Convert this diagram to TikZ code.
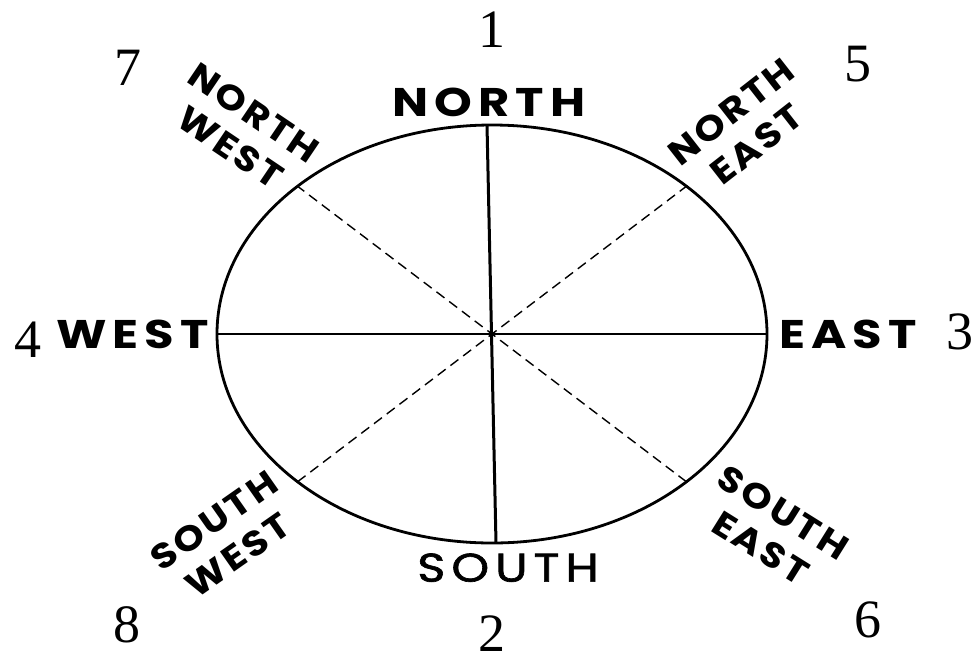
\documentclass[tikz,border=0pt]{standalone}
\usepackage{fontspec}
\newfontfamily\lblfont[LetterSpace=15, FakeStretch=1.2]{Poppins}
\newfontfamily\midfont[LetterSpace=15, FakeStretch=1.2, FakeBold=1.6]{Poppins}
\newfontfamily\slfont[LetterSpace=8, FakeStretch=1.12]{Poppins}
\newfontfamily\numfont{Liberation Serif}
\usetikzlibrary{positioning,calc}

\begin{document}
\begin{tikzpicture}[
  x=0.5pt, y=-0.5pt,
  big/.style={font=\lblfont\bfseries\fontsize{20}{20}\selectfont, inner sep=1pt},
  slant/.style={font=\slfont\bfseries\fontsize{17.5}{21}\selectfont, inner sep=1pt,
                align=center},
  num/.style={font=\numfont\fontsize{27}{27}\selectfont, inner sep=0pt},
  rim/.style={line width=1.4pt},
  ray/.style={line width=1pt},
  diag/.style={dashed, dash pattern=on 5pt off 3pt, line width=0.7pt},
]
  \useasboundingbox (0,0) rectangle (979,659);

  \coordinate (c) at (492,334);
  \coordinate (n) at (487,125);
  \coordinate (s) at (496,543);
  \coordinate (w) at (217,334);
  \coordinate (e) at (767,334);
  \path (c) ++(135:275 and 209) coordinate (nw);
  \path (c) ++(45:275 and 209)  coordinate (ne);
  \path (c) ++(225:275 and 209) coordinate (sw);
  \path (c) ++(-45:275 and 209) coordinate (se);

  \draw[rim] (c) ellipse [x radius=275, y radius=209];
  \draw[ray, line width=1.5pt] (n) -- (s);
  \draw[ray] (w) -- (e);
  \draw[diag] (nw) -- (se);
  \draw[diag] (ne) -- (sw);

  % main points
  \node[big, above=3pt of n, xshift=1pt] (north) {NORTH};
  \node[big, below=4pt of s, xshift=6pt, font=\midfont\fontsize{20}{20}\selectfont] (south) {SOUTH};
  \node[big, left=3pt of w] (west) {WEST};
  \node[big, right=5pt of e] (east) {EAST};

  \node[slant, rotate=-34] (nwl) at (242,130) {NORTH\\WEST};
  \node[slant, rotate=38]  (nel) at (744,128) {NORTH\\EAST};
  \node[slant, rotate=35]  (swl) at (226,538) {SOUTH\\WEST};
  \node[slant, rotate=-32] (sel) at (772,530) {SOUTH\\EAST};

  % numbers
  \node[num] (one)   at (492,30)  {1};
  \node[num] (two)   at (492,634) {2};
  \node[num] (three) at (960,332) {3};
  \node[num] (four)  at (28,340)  {4};
  \node[num] (five)  at (858,64)  {5};
  \node[num] (six)   at (868,620) {6};
  \node[num] (seven) at (128,68)  {7};
  \node[num] (eight) at (127,625) {8};
\end{tikzpicture}
\end{document}
